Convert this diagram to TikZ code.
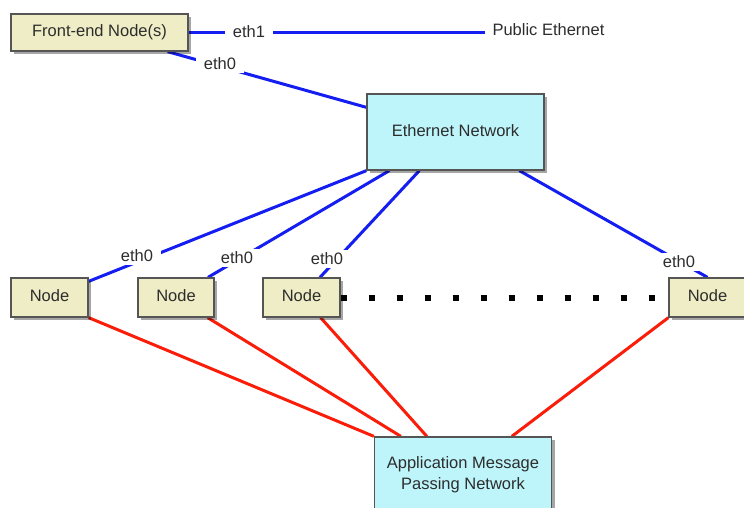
\documentclass[tikz,border=0pt]{standalone}
\usepackage{fontspec}
\setmainfont{Liberation Sans}
\usetikzlibrary{shadows,calc,backgrounds}
\definecolor{beige}{RGB}{238,237,198}
\definecolor{cyanbox}{RGB}{190,245,250}
\definecolor{edgegray}{RGB}{85,85,85}
\definecolor{ethblue}{RGB}{20,30,240}
\definecolor{msgred}{RGB}{250,30,10}
\definecolor{txtgray}{RGB}{45,45,45}
\begin{document}
\begin{tikzpicture}[x=1pt,y=-1pt,
  font=\fontsize{16.5}{21}\selectfont, text=txtgray,
  box/.style={draw=edgegray, line width=1.3pt, inner sep=0pt,
    drop shadow={shadow xshift=3pt, shadow yshift=-3pt, fill=black, opacity=0.35}},
  raised/.style={text height=12pt, text depth=4pt},
  hostbox/.style={box, raised, fill=beige, minimum height=39pt, minimum width=77pt},
  netbox/.style={box, fill=cyanbox, minimum width=177pt, minimum height=76pt, align=center},
  ethlink/.style={ethblue, line width=3pt},
  msglink/.style={msgred, line width=3pt},
  lbl/.style={fill=white, inner xsep=8pt, inner ysep=3pt},
  dotline/.style={black, line width=6pt, dash pattern=on 6pt off 22pt}]
\useasboundingbox (0,0) rectangle (744,508);

% boxes
\node[box, raised, fill=beige, minimum width=177pt, minimum height=37pt] (fe) at (99.5,32.5) {Front-end Node(s)};
\node[netbox, raised] (eth) at (455.5,132) {Ethernet Network};
\node[hostbox] (n1) at (49.5,297.5) {Node};
\node[hostbox, minimum width=76pt] (n2) at (176,297.5) {Node};
\node[hostbox] (n3) at (301.5,297.5) {Node};
\node[hostbox] (n4) at (707.5,297.5) {Node};
\node[netbox] (app) at (463,475) {Application Message\\Passing Network};
\node[anchor=west] (pub) at (489,30) {Public Ethernet};
\coordinate (pubend) at (485,32.5);

% connectors
\begin{scope}[on background layer]
\draw[ethlink] (fe.east) -- (pubend);
\draw[ethlink] ($(fe.south east)+(-21,0)$) -- ($(eth.north west)+(0,14)$);
\draw[ethlink] (eth.south west) -- ($(n1.north east)+(0,4)$);
\draw[ethlink] ($(eth.south west)+(23,0)$) -- ($(n2.north)+(32,0)$);
\draw[ethlink] ($(eth.south west)+(53,0)$) -- ($(n3.north)+(18.5,0)$);
\draw[ethlink] ($(eth.south west)+(153,0)$) -- (n4.north);
\draw[msglink] (n1.south east) -- (app.north west);
\draw[msglink] ($(n2.south east)+(-7,0)$) -- ($(app.north west)+(27,0)$);
\draw[msglink] ($(n3.south east)+(-20,0)$) -- ($(app.north west)+(53,0)$);
\draw[msglink] (n4.south west) -- ($(app.north west)+(138,0)$);
\draw[dotline] (n3.east) -- (n4.west);
\end{scope}

% labels
\node[lbl] (l1) at (249,32) {eth1};
\node[lbl] (l0) at (220,64) {eth0};
\node[lbl] (la) at (137,256) {eth0};
\node[lbl] (lb) at (237,258) {eth0};
\node[lbl] (lc) at (327,259) {eth0};
\node[lbl] (ld) at (679,262) {eth0};
\end{tikzpicture}
\end{document}
